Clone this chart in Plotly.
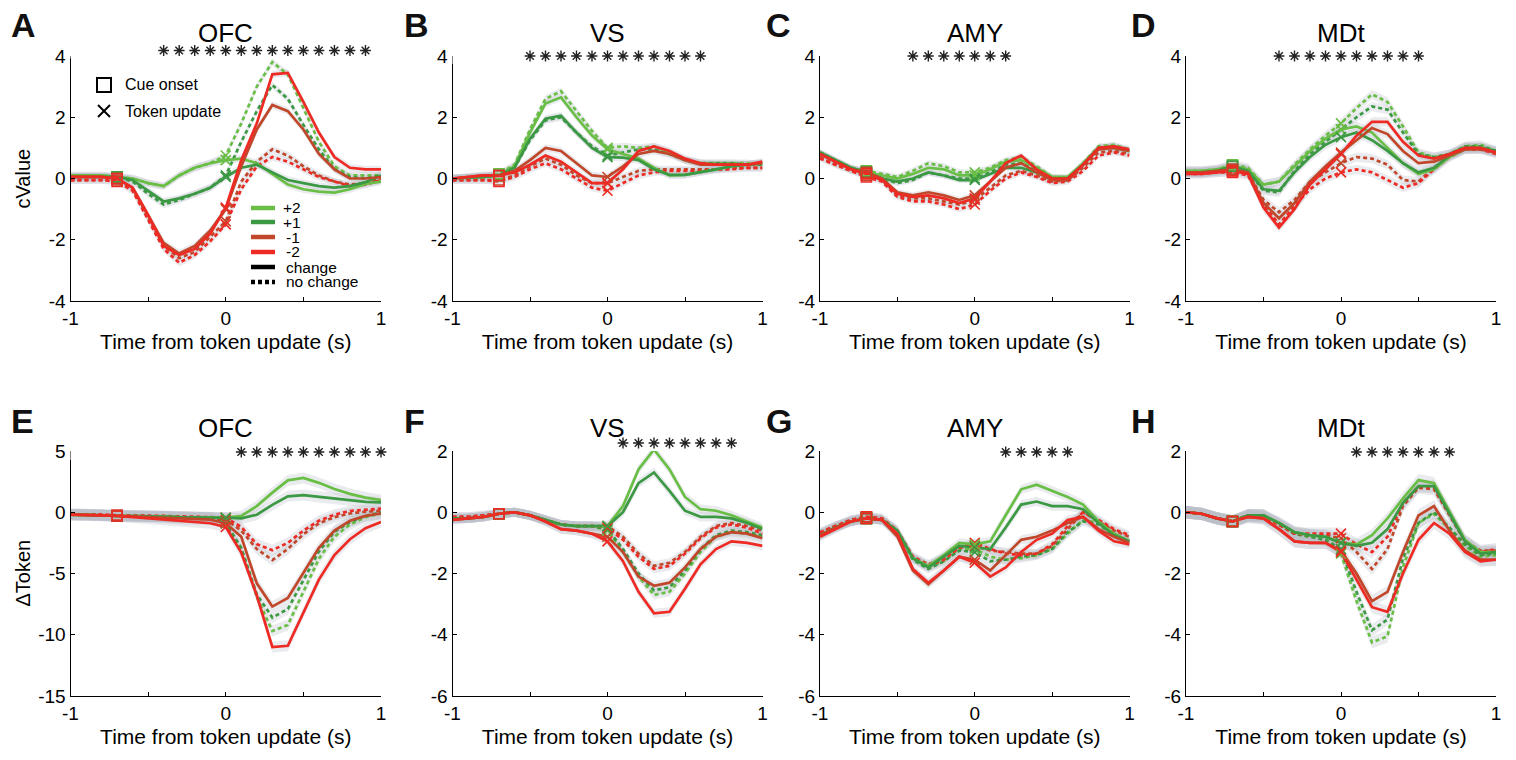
import plotly.graph_objects as go

W, H = 1516, 760

# ---------------- data ----------------
time_s = [-1.0, -0.9, -0.8, -0.7, -0.6, -0.5, -0.4, -0.3, -0.2, -0.1, 0.0,
          0.1, 0.2, 0.3, 0.4, 0.5, 0.6, 0.7, 0.8, 0.9, 1.0]
CUE_IDX, UPD_IDX = 3, 10          # cue onset (-0.7 s) and token update (0 s)

groups = ["+2", "+1", "-1", "-2"]
colors = {"+2": "#69be45", "+1": "#3b9843", "-1": "#c1472b", "-2": "#ee2a24"}

# Panel A  OFC cValue
A_p2_chg = [0.1,0.1,0.1,0.05,0.0,-0.15,-0.25,0.1,0.35,0.5,0.6,0.65,0.5,0.15,-0.2,-0.35,-0.43,-0.46,-0.35,-0.18,-0.1]
A_p2_nc  = [0.1,0.1,0.1,0.05,0.0,-0.15,-0.25,0.1,0.35,0.5,0.75,1.8,3.0,3.8,3.4,2.3,1.2,0.4,0.1,0.1,0.1]
A_p1_chg = [0.05,0.05,0.05,0.05,-0.05,-0.4,-0.75,-0.65,-0.5,-0.3,0.05,0.35,0.45,0.2,-0.05,-0.15,-0.25,-0.3,-0.25,-0.12,0.1]
A_p1_nc  = [0.05,0.05,0.05,0.05,-0.1,-0.5,-0.85,-0.7,-0.5,-0.3,0.1,1.2,2.2,3.05,2.6,1.75,0.95,0.3,0.05,0.0,0.1]
A_m1_chg = [0.05,0.05,0.05,0.0,-0.3,-1.2,-2.1,-2.45,-2.2,-1.7,-1.0,0.4,1.6,2.4,2.2,1.6,0.8,0.3,0.0,0.0,0.05]
A_m2_chg = [0.05,0.05,0.05,0.0,-0.3,-1.2,-2.2,-2.5,-2.3,-1.8,-0.95,0.6,1.8,3.4,3.45,2.5,1.5,0.7,0.35,0.3,0.3]
A_m1_nc  = [-0.05,-0.05,-0.05,-0.05,-0.35,-1.3,-2.2,-2.6,-2.4,-1.9,-1.4,-0.1,0.55,0.95,0.75,0.4,0.1,-0.1,-0.2,-0.15,0.0]
A_m2_nc  = [-0.05,-0.05,-0.05,-0.1,-0.4,-1.35,-2.3,-2.75,-2.5,-2.05,-1.5,-0.35,0.4,0.7,0.55,0.3,0.05,-0.1,-0.25,-0.2,-0.05]

# Panel B  VS cValue
B_p2_chg = [0.0,0.02,0.05,0.1,0.4,1.5,2.45,2.65,2.0,1.4,0.95,0.8,0.65,0.35,0.1,0.12,0.2,0.3,0.4,0.45,0.5]
B_p2_nc  = [0.0,0.02,0.05,0.15,0.45,1.6,2.6,2.85,2.2,1.55,1.0,1.05,1.0,1.05,0.85,0.6,0.5,0.5,0.5,0.5,0.45]
B_p1_chg = [0.0,0.02,0.05,0.1,0.35,1.3,1.95,2.05,1.5,1.0,0.7,0.68,0.6,0.3,0.12,0.12,0.2,0.3,0.4,0.45,0.5]
B_p1_nc  = [0.0,0.02,0.05,0.1,0.35,1.25,1.9,2.0,1.5,1.05,0.75,0.85,0.95,0.95,0.8,0.6,0.5,0.5,0.5,0.45,0.45]
B_m1_chg = [0.0,0.05,0.1,0.1,0.25,0.6,1.0,0.9,0.5,0.1,0.05,0.4,0.8,0.9,0.8,0.6,0.45,0.45,0.45,0.45,0.5]
B_m2_chg = [0.0,0.05,0.1,0.1,0.2,0.45,0.75,0.55,0.2,-0.15,-0.15,0.3,0.9,1.05,0.9,0.65,0.5,0.45,0.45,0.45,0.55]
B_m1_nc  = [-0.05,-0.05,-0.05,-0.05,0.1,0.4,0.65,0.45,0.1,-0.15,-0.15,0.05,0.25,0.3,0.3,0.3,0.3,0.3,0.35,0.35,0.35]
B_m2_nc  = [-0.05,-0.05,-0.05,-0.1,0.05,0.3,0.5,0.3,0.0,-0.3,-0.4,-0.15,0.1,0.2,0.25,0.25,0.25,0.3,0.3,0.35,0.35]

# Panel C  AMY cValue
C_p2_chg = [0.85,0.6,0.35,0.2,0.1,0.0,0.15,0.35,0.3,0.1,0.1,0.3,0.55,0.6,0.35,0.05,0.05,0.5,1.0,1.05,0.9]
C_p2_nc  = [0.85,0.6,0.35,0.25,0.15,0.05,0.25,0.5,0.4,0.2,0.2,0.35,0.6,0.7,0.4,0.05,0.0,0.5,1.05,1.1,0.95]
C_p1_chg = [0.85,0.6,0.35,0.2,0.0,-0.1,0.0,0.2,0.1,-0.05,-0.05,0.15,0.35,0.35,0.2,0.0,0.0,0.45,1.0,1.0,0.9]
C_p1_nc  = [0.85,0.6,0.35,0.2,0.0,-0.15,-0.05,0.2,0.1,0.0,0.0,0.2,0.45,0.5,0.25,0.0,0.0,0.45,1.0,1.05,0.9]
C_m1_chg = [0.8,0.55,0.3,0.2,0.0,-0.45,-0.55,-0.45,-0.55,-0.7,-0.55,-0.1,0.35,0.5,0.2,-0.05,-0.05,0.45,0.95,1.0,0.9]
C_m2_chg = [0.8,0.55,0.3,0.15,-0.05,-0.5,-0.6,-0.55,-0.65,-0.8,-0.65,-0.1,0.5,0.75,0.3,0.0,0.0,0.45,1.0,1.05,0.95]
C_m1_nc  = [0.7,0.45,0.25,0.1,-0.05,-0.55,-0.65,-0.65,-0.75,-0.85,-0.7,-0.3,0.1,0.25,0.1,-0.1,-0.05,0.35,0.85,0.9,0.8]
C_m2_nc  = [0.65,0.45,0.25,0.05,-0.1,-0.6,-0.75,-0.75,-0.85,-1.0,-0.85,-0.4,0.0,0.2,0.05,-0.15,-0.1,0.25,0.75,0.85,0.75]

# Panel D  MDt cValue
D_p2_chg = [0.25,0.25,0.3,0.4,0.3,-0.2,-0.1,0.4,0.9,1.3,1.6,1.7,1.5,1.0,0.5,0.15,0.3,0.7,0.95,1.0,0.85]
D_p2_nc  = [0.25,0.25,0.3,0.45,0.35,-0.2,-0.1,0.45,0.95,1.4,1.8,2.3,2.75,2.5,1.7,0.85,0.7,0.8,1.05,1.1,0.9]
D_p1_chg = [0.2,0.2,0.25,0.4,0.25,-0.35,-0.4,0.2,0.7,1.1,1.35,1.5,1.25,0.9,0.5,0.2,0.35,0.75,1.0,1.0,0.9]
D_p1_nc  = [0.2,0.2,0.25,0.4,0.25,-0.4,-0.45,0.25,0.8,1.2,1.6,2.0,2.35,2.25,1.5,0.8,0.7,0.8,1.05,1.05,0.9]
D_m1_chg = [0.2,0.2,0.25,0.3,0.2,-0.8,-1.3,-0.8,-0.1,0.4,0.85,1.25,1.65,1.45,0.9,0.5,0.55,0.75,0.95,0.95,0.85]
D_m2_chg = [0.15,0.15,0.2,0.25,0.15,-0.95,-1.6,-1.0,-0.2,0.3,0.8,1.4,1.85,1.85,1.2,0.75,0.65,0.8,1.0,1.0,0.85]
D_m1_nc  = [0.2,0.2,0.25,0.3,0.2,-0.7,-1.1,-0.7,-0.1,0.2,0.5,0.7,0.65,0.45,-0.05,-0.1,0.35,0.75,1.0,1.0,0.85]
D_m2_nc  = [0.15,0.15,0.2,0.2,0.1,-0.85,-1.5,-0.9,-0.35,0.0,0.2,0.3,0.2,-0.05,-0.3,-0.15,0.3,0.7,0.95,0.95,0.8]

# Panel E  OFC dToken
E_p2_chg = [-0.2,-0.2,-0.25,-0.3,-0.3,-0.35,-0.35,-0.4,-0.4,-0.4,-0.45,-0.3,0.5,1.6,2.6,2.8,2.4,1.9,1.5,1.2,1.0]
E_p2_nc  = [-0.2,-0.2,-0.25,-0.3,-0.3,-0.35,-0.35,-0.4,-0.4,-0.45,-0.9,-3.0,-6.9,-9.7,-9.2,-6.5,-3.8,-2.0,-1.0,-0.4,-0.1]
E_p1_chg = [-0.2,-0.2,-0.25,-0.3,-0.3,-0.35,-0.35,-0.4,-0.4,-0.4,-0.45,-0.5,-0.2,0.6,1.3,1.4,1.25,1.1,0.95,0.85,0.8]
E_p1_nc  = [-0.2,-0.2,-0.25,-0.3,-0.3,-0.35,-0.35,-0.4,-0.4,-0.45,-0.9,-2.9,-6.7,-8.6,-7.9,-5.5,-3.2,-1.6,-0.8,-0.3,0.0]
E_m1_chg = [-0.2,-0.2,-0.25,-0.3,-0.35,-0.4,-0.45,-0.55,-0.6,-0.6,-0.9,-2.0,-5.8,-7.7,-7.0,-4.9,-2.9,-1.5,-0.7,-0.3,-0.1]
E_m2_chg = [-0.2,-0.2,-0.25,-0.3,-0.4,-0.5,-0.6,-0.7,-0.8,-0.9,-1.2,-3.3,-6.8,-11.0,-10.9,-8.2,-5.5,-3.5,-2.2,-1.3,-0.8]
E_m1_nc  = [-0.15,-0.15,-0.2,-0.25,-0.3,-0.3,-0.35,-0.35,-0.4,-0.45,-0.6,-1.5,-3.0,-3.9,-3.0,-1.8,-0.9,-0.4,-0.1,0.05,0.1]
E_m2_nc  = [-0.15,-0.15,-0.2,-0.25,-0.25,-0.3,-0.3,-0.35,-0.35,-0.4,-0.45,-1.2,-2.6,-3.1,-2.5,-1.5,-0.7,-0.2,0.1,0.2,0.3]

# Panel F  VS dToken
F_p2_chg = [-0.2,-0.2,-0.15,-0.05,0.0,-0.1,-0.25,-0.4,-0.45,-0.45,-0.45,0.2,1.4,2.05,1.4,0.5,0.1,0.05,-0.1,-0.3,-0.5]
F_p2_nc  = [-0.2,-0.2,-0.15,-0.05,0.0,-0.1,-0.25,-0.4,-0.45,-0.45,-0.6,-1.3,-2.1,-2.7,-2.6,-2.0,-1.3,-0.8,-0.65,-0.7,-0.8]
F_p1_chg = [-0.2,-0.2,-0.15,-0.05,0.0,-0.1,-0.25,-0.4,-0.45,-0.45,-0.45,0.0,0.95,1.3,0.7,0.05,-0.15,-0.15,-0.2,-0.35,-0.55]
F_p1_nc  = [-0.2,-0.2,-0.15,-0.05,0.0,-0.1,-0.25,-0.4,-0.45,-0.45,-0.55,-1.2,-2.0,-2.55,-2.45,-1.9,-1.2,-0.75,-0.6,-0.65,-0.75]
F_m1_chg = [-0.25,-0.2,-0.15,-0.05,0.0,-0.1,-0.3,-0.55,-0.6,-0.7,-0.8,-1.3,-2.1,-2.4,-2.3,-1.8,-1.2,-0.8,-0.65,-0.7,-0.85]
F_m2_chg = [-0.25,-0.2,-0.15,-0.05,0.0,-0.1,-0.3,-0.55,-0.6,-0.7,-0.95,-1.6,-2.6,-3.3,-3.25,-2.5,-1.7,-1.2,-0.95,-1.0,-1.1]
F_m1_nc  = [-0.15,-0.15,-0.1,-0.05,0.0,-0.1,-0.25,-0.4,-0.45,-0.45,-0.45,-0.8,-1.35,-1.75,-1.65,-1.3,-0.8,-0.45,-0.35,-0.45,-0.6]
F_m2_nc  = [-0.15,-0.15,-0.1,-0.05,0.0,-0.1,-0.25,-0.4,-0.45,-0.45,-0.5,-0.9,-1.45,-1.85,-1.75,-1.35,-0.85,-0.5,-0.4,-0.5,-0.7]

# Panel G  AMY dToken
G_p2_chg = [-0.75,-0.5,-0.3,-0.2,-0.25,-0.6,-1.5,-1.75,-1.4,-1.0,-1.05,-0.95,-0.1,0.75,0.9,0.7,0.5,0.25,-0.3,-0.7,-0.95]
G_p2_nc  = [-0.7,-0.45,-0.3,-0.2,-0.25,-0.65,-1.5,-1.8,-1.6,-1.2,-1.2,-1.45,-1.55,-1.5,-1.4,-1.2,-0.7,-0.25,-0.35,-0.7,-0.95]
G_p1_chg = [-0.75,-0.5,-0.3,-0.2,-0.25,-0.6,-1.5,-1.8,-1.45,-1.1,-1.15,-1.2,-0.5,0.25,0.35,0.2,0.2,0.1,-0.35,-0.75,-0.95]
G_p1_nc  = [-0.7,-0.45,-0.3,-0.2,-0.25,-0.65,-1.55,-1.85,-1.6,-1.25,-1.3,-1.6,-1.55,-1.45,-1.4,-1.2,-0.65,-0.3,-0.4,-0.75,-0.95]
G_m1_chg = [-0.75,-0.5,-0.3,-0.2,-0.25,-0.8,-1.9,-2.35,-1.9,-1.45,-1.55,-1.9,-1.4,-0.9,-0.8,-0.6,-0.35,-0.15,-0.55,-0.8,-1.0]
G_m2_chg = [-0.8,-0.55,-0.3,-0.2,-0.25,-0.7,-1.85,-2.3,-1.9,-1.45,-1.65,-2.1,-1.8,-1.3,-0.9,-0.7,-0.25,-0.15,-0.6,-0.95,-1.05]
G_m1_nc  = [-0.7,-0.45,-0.25,-0.15,-0.2,-0.6,-1.45,-1.7,-1.5,-1.15,-1.1,-1.25,-1.3,-1.35,-1.35,-1.1,-0.55,0.0,-0.3,-0.6,-0.8]
G_m2_nc  = [-0.65,-0.45,-0.25,-0.15,-0.2,-0.6,-1.45,-1.75,-1.55,-1.15,-1.0,-1.2,-1.35,-1.4,-1.35,-1.05,-0.45,0.0,-0.25,-0.55,-0.75]

# Panel H  MDt dToken
H_p2_chg = [0.0,-0.05,-0.2,-0.3,-0.1,-0.1,-0.35,-0.65,-0.75,-0.8,-1.0,-1.05,-0.75,-0.2,0.45,1.05,0.95,0.0,-0.9,-1.3,-1.3]
H_p2_nc  = [0.0,-0.05,-0.2,-0.3,-0.1,-0.1,-0.4,-0.7,-0.8,-0.9,-1.35,-2.9,-4.25,-4.05,-1.8,-0.35,-0.05,-0.55,-1.1,-1.45,-1.4]
H_p1_chg = [0.0,-0.05,-0.2,-0.3,-0.1,-0.1,-0.35,-0.65,-0.75,-0.8,-1.0,-1.1,-1.0,-0.55,0.3,0.85,0.85,-0.05,-0.95,-1.35,-1.3]
H_p1_nc  = [0.0,-0.05,-0.2,-0.3,-0.1,-0.1,-0.4,-0.7,-0.8,-0.9,-1.2,-2.6,-3.85,-3.5,-1.5,-0.35,0.0,-0.5,-1.05,-1.4,-1.35]
H_m1_chg = [0.0,-0.05,-0.2,-0.3,-0.15,-0.2,-0.55,-0.95,-1.0,-1.0,-1.25,-2.0,-2.9,-2.6,-1.3,-0.1,0.2,-0.6,-1.25,-1.55,-1.55]
H_m2_chg = [0.0,-0.05,-0.2,-0.3,-0.15,-0.2,-0.55,-0.95,-1.0,-1.0,-1.3,-2.2,-3.1,-3.25,-2.0,-0.9,-0.35,-0.7,-1.3,-1.6,-1.55]
H_m1_nc  = [0.0,-0.05,-0.2,-0.3,-0.1,-0.15,-0.4,-0.7,-0.75,-0.75,-0.85,-1.3,-1.85,-1.2,0.2,0.8,0.75,-0.1,-0.95,-1.25,-1.25]
H_m2_nc  = [0.0,-0.05,-0.2,-0.3,-0.1,-0.15,-0.4,-0.7,-0.7,-0.7,-0.7,-1.05,-1.3,-0.8,0.3,0.85,0.8,-0.05,-0.95,-1.3,-1.2]

# significant time bins (asterisks)
A_sig = [-0.4,-0.3,-0.2,-0.1,0.0,0.1,0.2,0.3,0.4,0.5,0.6,0.7,0.8,0.9]
B_sig = [-0.5,-0.4,-0.3,-0.2,-0.1,0.0,0.1,0.2,0.3,0.4,0.5,0.6]
C_sig = [-0.4,-0.3,-0.2,-0.1,0.0,0.1,0.2]
D_sig = [-0.4,-0.3,-0.2,-0.1,0.0,0.1,0.2,0.3,0.4,0.5]
E_sig = [0.1,0.2,0.3,0.4,0.5,0.6,0.7,0.8,0.9,1.0]
F_sig = [0.1,0.2,0.3,0.4,0.5,0.6,0.7,0.8]
G_sig = [0.2,0.3,0.4,0.5,0.6]
H_sig = [0.1,0.2,0.3,0.4,0.5,0.6,0.7]

# error-band half widths (SEM) per panel
A_sem, B_sem, C_sem, D_sem = 0.12, 0.12, 0.1, 0.15
E_sem, F_sem, G_sem, H_sem = 0.45, 0.15, 0.15, 0.2

x_ticks = [-1, -0.5, 0, 0.5, 1]
x_ticktext = ["-1", "", "0", "", "1"]
cv_ticks = [-4, -2, 0, 2, 4]
dt_ticks_ofc = [-15, -10, -5, 0, 5]
dt_ticks = [-6, -4, -2, 0, 2]

def series(p2c, p2n, p1c, p1n, m1c, m1n, m2c, m2n):
    return {("+2", "c"): p2c, ("+2", "n"): p2n, ("+1", "c"): p1c, ("+1", "n"): p1n,
            ("-1", "c"): m1c, ("-1", "n"): m1n, ("-2", "c"): m2c, ("-2", "n"): m2n}

panels = [
    dict(letter="A", title="OFC", data=series(A_p2_chg, A_p2_nc, A_p1_chg, A_p1_nc, A_m1_chg, A_m1_nc, A_m2_chg, A_m2_nc),
         sig=A_sig, sem=A_sem, yt=cv_ticks, ylab="cValue"),
    dict(letter="B", title="VS", data=series(B_p2_chg, B_p2_nc, B_p1_chg, B_p1_nc, B_m1_chg, B_m1_nc, B_m2_chg, B_m2_nc),
         sig=B_sig, sem=B_sem, yt=cv_ticks, ylab=""),
    dict(letter="C", title="AMY", data=series(C_p2_chg, C_p2_nc, C_p1_chg, C_p1_nc, C_m1_chg, C_m1_nc, C_m2_chg, C_m2_nc),
         sig=C_sig, sem=C_sem, yt=cv_ticks, ylab=""),
    dict(letter="D", title="MDt", data=series(D_p2_chg, D_p2_nc, D_p1_chg, D_p1_nc, D_m1_chg, D_m1_nc, D_m2_chg, D_m2_nc),
         sig=D_sig, sem=D_sem, yt=cv_ticks, ylab=""),
    dict(letter="E", title="OFC", data=series(E_p2_chg, E_p2_nc, E_p1_chg, E_p1_nc, E_m1_chg, E_m1_nc, E_m2_chg, E_m2_nc),
         sig=E_sig, sem=E_sem, yt=dt_ticks_ofc, ylab="ΔToken"),
    dict(letter="F", title="VS", data=series(F_p2_chg, F_p2_nc, F_p1_chg, F_p1_nc, F_m1_chg, F_m1_nc, F_m2_chg, F_m2_nc),
         sig=F_sig, sem=F_sem, yt=dt_ticks, ylab=""),
    dict(letter="G", title="AMY", data=series(G_p2_chg, G_p2_nc, G_p1_chg, G_p1_nc, G_m1_chg, G_m1_nc, G_m2_chg, G_m2_nc),
         sig=G_sig, sem=G_sem, yt=dt_ticks, ylab=""),
    dict(letter="H", title="MDt", data=series(H_p2_chg, H_p2_nc, H_p1_chg, H_p1_nc, H_m1_chg, H_m1_nc, H_m2_chg, H_m2_nc),
         sig=H_sig, sem=H_sem, yt=dt_ticks, ylab=""),
]

# ---------------- layout geometry (pixels) ----------------
col_x = [(70.5, 381), (452.5, 762.5), (820, 1129.5), (1186, 1496)]
row_y = [(56, 301), (451, 696)]
letter_x = [9, 402, 764, 1129]
title_cx = [225, 607, 975, 1341]
title_y = [33, 428]
letter_y = [25, 421]
star_y_px = [50.5, 56, 56, 56, 452, 443, 452, 452]

FONT = "Liberation Sans, Arial, sans-serif"
DOT = "4px,3px"

def px(x): return x / W
def py(y): return 1 - y / H

fig = go.Figure()
annotations = []
shapes = []

for i, p in enumerate(panels):
    r, c = divmod(i, 4)
    ax = "" if i == 0 else str(i + 1)
    xa, ya = "x" + ax, "y" + ax
    sa = "y" + str(9 + i)            # strip axis for asterisks
    yt = p["yt"]
    ymin, ymax = yt[0], yt[-1]
    # bands
    for cond in ["n", "c"]:
        for g in groups:
            v = p["data"][(g, cond)]
            up = [a + p["sem"] for a in v]
            lo = [a - p["sem"] for a in v]
            fig.add_trace(go.Scatter(x=time_s + time_s[::-1], y=up + lo[::-1], fill="toself",
                                     fillcolor="rgba(185,190,198,0.30)", line=dict(width=0),
                                     hoverinfo="skip", showlegend=False, xaxis=xa, yaxis=ya))
    # lines
    for cond in ["n", "c"]:
        for g in groups:
            v = p["data"][(g, cond)]
            fig.add_trace(go.Scatter(x=time_s, y=v, mode="lines",
                                     line=dict(color=colors[g], width=2.7,
                                               dash="solid" if cond == "c" else DOT),
                                     showlegend=False, xaxis=xa, yaxis=ya))
    # event markers
    for cond in ["n", "c"]:
        for g in groups:
            v = p["data"][(g, cond)]
            fig.add_trace(go.Scatter(x=[time_s[CUE_IDX]], y=[v[CUE_IDX]], mode="markers",
                                     marker=dict(symbol="square-open", size=10, color=colors[g],
                                                 line=dict(width=1.6, color=colors[g])),
                                     showlegend=False, xaxis=xa, yaxis=ya))
            fig.add_trace(go.Scatter(x=[time_s[UPD_IDX]], y=[v[UPD_IDX]], mode="markers",
                                     marker=dict(symbol="x-thin-open", size=10, color=colors[g],
                                                 line=dict(width=1.6, color=colors[g])),
                                     showlegend=False, xaxis=xa, yaxis=ya))
    # significance stars on a thin strip axis above the panel
    fig.add_trace(go.Scatter(x=p["sig"], y=[0.5] * len(p["sig"]), mode="markers",
                             marker=dict(symbol="asterisk-open", size=9, color="#222",
                                         line=dict(width=1.4, color="#222")),
                             cliponaxis=False, showlegend=False, xaxis=xa, yaxis=sa))

    x0, x1 = col_x[c]
    y0, y1 = row_y[r]
    common = dict(showline=True, linecolor="black", linewidth=1.2, ticks="inside", ticklen=4,
                  tickwidth=1.2, tickcolor="black", showgrid=False, zeroline=False, mirror=False,
                  automargin=False, tickfont=dict(family=FONT, size=19, color="black"))
    fig.layout["xaxis" + ax] = dict(domain=[px(x0), px(x1)], anchor=ya, range=[-1, 1],
                                    tickvals=x_ticks, ticktext=x_ticktext, ticklabelstandoff=0,
                                    title=dict(text="Time from token update (s)",
                                               font=dict(family=FONT, size=21, color="black"), standoff=6),
                                    **common)
    fig.layout["yaxis" + ax] = dict(domain=[py(y1), py(y0)], anchor=xa, range=[ymin, ymax],
                                    tickvals=yt, ticktext=[str(v) for v in yt], ticklabelstandoff=0,
                                    **common)
    sy = star_y_px[i]
    fig.layout["yaxis" + str(9 + i)] = dict(domain=[py(sy + 8), py(sy - 8)], anchor=xa, range=[0, 1],
                                            visible=False, automargin=False, fixedrange=True)
    if p["ylab"]:
        annotations.append(dict(x=px(22), y=py((y0 + y1) / 2), xref="paper", yref="paper",
                                xanchor="center", yanchor="middle",
                                text=p["ylab"], textangle=-90, showarrow=False,
                                font=dict(family=FONT, size=20, color="black")))
    annotations.append(dict(x=px(letter_x[c]), y=py(letter_y[r]), xref="paper", yref="paper",
                            xanchor="left", yanchor="middle", text="<b>%s</b>" % p["letter"],
                            showarrow=False, font=dict(family=FONT, size=34, color="#111")))
    annotations.append(dict(x=px(title_cx[c]), y=py(title_y[r]), xref="paper", yref="paper",
                            xanchor="center", yanchor="middle", text=p["title"],
                            showarrow=False, font=dict(family=FONT, size=26, color="black")))

# ---------------- legend in panel A ----------------
shapes.append(dict(type="rect", xref="paper", yref="paper", x0=px(97), x1=px(111), y0=py(92), y1=py(78),
                   line=dict(color="black", width=2)))
shapes.append(dict(type="line", xref="paper", yref="paper", x0=px(98), x1=px(110), y0=py(105), y1=py(117),
                   line=dict(color="black", width=2)))
shapes.append(dict(type="line", xref="paper", yref="paper", x0=px(98), x1=px(110), y0=py(117), y1=py(105),
                   line=dict(color="black", width=2)))
for txt, yy in [("Cue onset", 85), ("Token update", 111)]:
    annotations.append(dict(x=px(123), y=py(yy), xref="paper", yref="paper", xanchor="left",
                            yanchor="middle", text=txt, showarrow=False,
                            font=dict(family=FONT, size=16, color="black")))
leg_rows = [("+2", colors["+2"], "solid", 208, 281), ("+1", colors["+1"], "solid", 222, 281),
            ("-1", colors["-1"], "solid", 237, 284), ("-2", colors["-2"], "solid", 252, 284),
            ("change", "black", "solid", 267, 284), ("no change", "black", DOT, 282, 284)]
for txt, col, dsh, yy, tx in leg_rows:
    shapes.append(dict(type="line", xref="paper", yref="paper", x0=px(251), x1=px(275),
                       y0=py(yy), y1=py(yy), line=dict(color=col, width=4.5, dash=dsh)))
    annotations.append(dict(x=px(tx), y=py(yy), xref="paper", yref="paper", xanchor="left",
                            yanchor="middle", text=txt, showarrow=False,
                            font=dict(family=FONT, size=15.5, color="black")))

fig.update_layout(width=W, height=H, margin=dict(l=0, r=0, t=0, b=0, pad=0, autoexpand=False),
                  paper_bgcolor="white", plot_bgcolor="white",
                  annotations=annotations, shapes=shapes, showlegend=False,
                  font=dict(family=FONT, color="black"))
fig.write_html("out.html")
